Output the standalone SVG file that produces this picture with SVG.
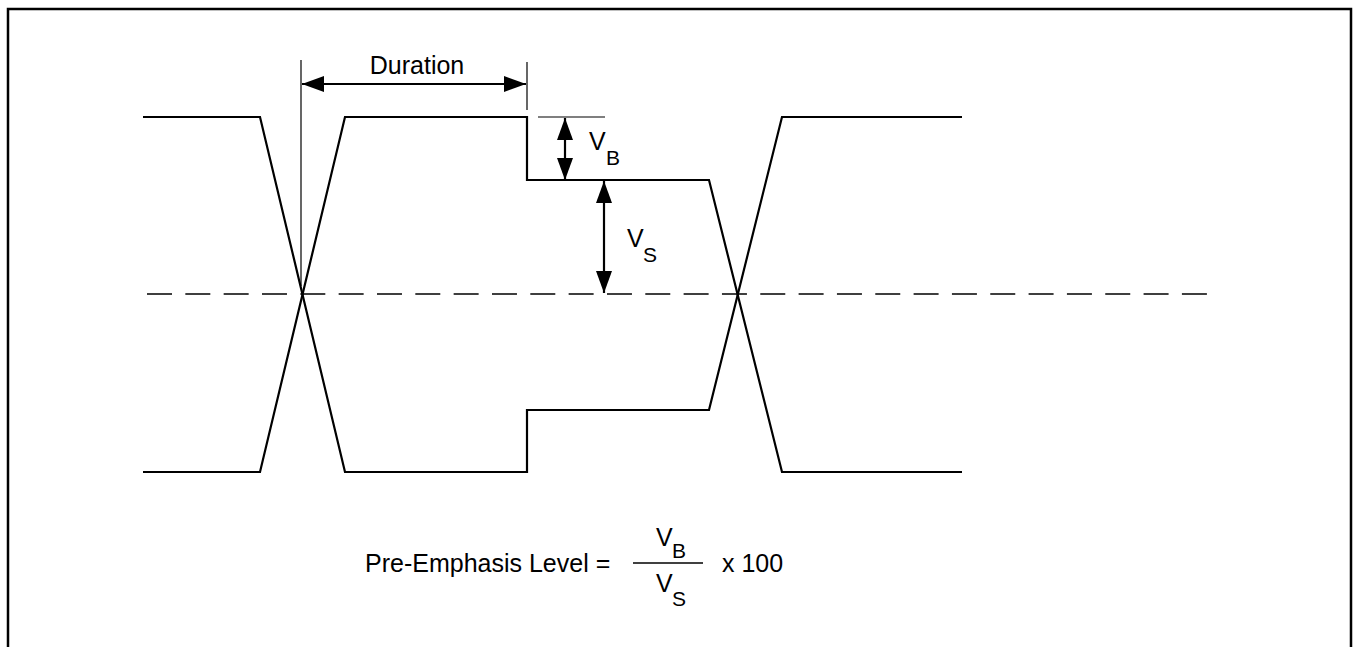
<svg xmlns="http://www.w3.org/2000/svg" width="1354" height="647" viewBox="0 0 1354 647">
<style>
.w{fill:none;stroke:#000;stroke-width:2.2;stroke-linejoin:miter}
.t{fill:none;stroke:#000;stroke-width:1.2}
.a{fill:none;stroke:#000;stroke-width:2.2}
.txt{font-family:"Liberation Sans",Arial,sans-serif;font-size:25px;fill:#000}
.sub{font-family:"Liberation Sans",Arial,sans-serif;font-size:21px;fill:#000}
</style>
<defs>
<marker id="ah" viewBox="0 0 22 16" refX="22" refY="8" markerWidth="22" markerHeight="16" markerUnits="userSpaceOnUse" orient="auto-start-reverse">
<path d="M0,0 L22,8 L0,16 Z" fill="#000"/>
</marker>
</defs>
<rect width="1354" height="647" fill="#fff"/>
<path id="frame" d="M8,647 V9 H1351 V647" fill="none" stroke="#000" stroke-width="2.5"/>
<g id="waveform">
<polyline class="w" points="143,117 260,117 345,472 527,472 527,410 709,410 782,117 962,117"/>
<polyline class="w" points="143,472 260,472 345,117 527,117 527,180 709,180 782,472 962,472"/>
<line x1="147" y1="294" x2="1208" y2="294" stroke="#000" stroke-width="1.5" stroke-dasharray="25 13.33"/>
</g>
<g id="connectors">
<line class="t" x1="301" y1="60" x2="301" y2="286"/>
<line class="t" x1="527" y1="62" x2="527" y2="110"/>
<line class="t" x1="538" y1="117" x2="605" y2="117"/>
<line class="a" x1="302" y1="84" x2="526" y2="84" marker-start="url(#ah)" marker-end="url(#ah)"/>
<line class="a" x1="565" y1="118" x2="565" y2="180" marker-start="url(#ah)" marker-end="url(#ah)"/>
<line class="a" x1="604" y1="181" x2="604" y2="293" marker-start="url(#ah)" marker-end="url(#ah)"/>
</g>
<g id="labels">
<text class="txt" x="417" y="74" text-anchor="middle">Duration</text>
<text class="txt" x="589" y="150">V</text><text class="sub" x="606" y="165">B</text>
<text class="txt" x="627" y="247">V</text><text class="sub" x="643" y="262">S</text>
</g>
<g id="formula">
<text class="txt" x="365" y="572">Pre-Emphasis Level =</text>
<line x1="633" y1="563" x2="703" y2="563" stroke="#000" stroke-width="1.5"/>
<text class="txt" x="656" y="546">V</text><text class="sub" x="672" y="558">B</text>
<text class="txt" x="656" y="592">V</text><text class="sub" x="672" y="606">S</text>
<text class="txt" x="722" y="572">x 100</text>
</g>
</svg>
